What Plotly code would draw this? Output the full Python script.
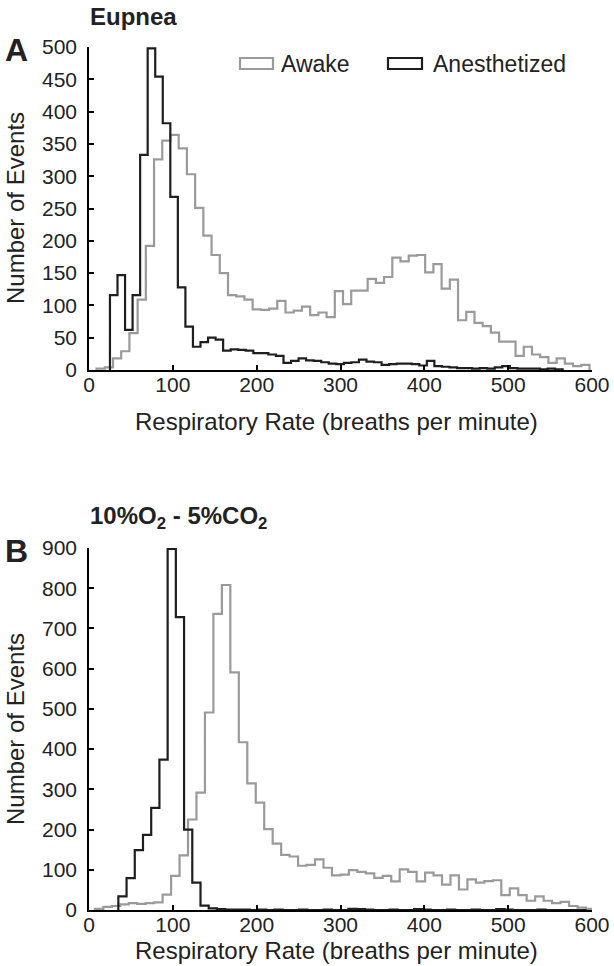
import numpy as np
import plotly.graph_objects as go

# ---------------- data ----------------
x_ticks = [0, 100, 200, 300, 400, 500, 600]
a_y_ticks = list(range(0, 501, 50))
b_y_ticks = list(range(0, 901, 100))

# Panel A (Eupnea) – Awake (grey)
a_awake_start = 9.0
a_awake_width = 9.8
a_awake_counts = [2, 4, 18, 29, 57, 109, 192, 326, 355, 364,
                  343, 303, 251, 208, 178, 150, 116, 114, 109, 94,
                  93, 95, 107, 89, 92, 98, 85, 89, 82, 122,
                  102, 123, 123, 141, 135, 144, 174, 168, 177, 178,
                  151, 164, 126, 140, 77, 90, 73, 68, 58, 44,
                  44, 22, 36, 24, 20, 11, 18, 10, 6, 8]

# Panel A (Eupnea) – Anesthetized (black)
a_anes_start = 25.0
a_anes_width = 9.0
a_anes_counts = [116, 147, 62, 116, 333, 498, 454, 382, 268, 128,
                 67, 36, 43, 50, 47, 30, 32, 31, 30, 26,
                 26, 24, 22, 11, 14, 18, 15, 14, 12, 10,
                 9, 11, 12, 16, 13, 12, 8, 9, 10, 10,
                 9, 7, 14, 6, 5, 4, 3, 3, 2, 3,
                 2, 4, 6, 3, 2, 2, 2, 1, 2, 1]

# Panel B (10%O2 - 5%CO2) – Awake (grey)
b_awake_start = 7.0
b_awake_width = 10.1
b_awake_counts = [3, 8, 10, 14, 17, 15, 17, 19, 38, 85,
                  136, 225, 292, 491, 736, 808, 591, 417, 315, 267,
                  201, 165, 137, 133, 110, 112, 126, 105, 86, 88,
                  99, 95, 91, 80, 85, 71, 101, 95, 71, 93,
                  86, 63, 86, 51, 76, 68, 72, 74, 37, 54,
                  37, 23, 34, 23, 17, 20, 10, 6, 3]

# Panel B (10%O2 - 5%CO2) – Anesthetized (black)
b_anes_start = 35.0
b_anes_width = 9.8
b_anes_counts = [34, 79, 149, 187, 254, 374, 898, 728, 200, 68,
                 11, 4, 2, 1, 1, 1, 0, 1, 0, 1,
                 0, 0, 1, 0, 0, 1, 0, 0, 3, 2,
                 1, 0, 0, 1, 0, 0, 2, 1, 0, 0,
                 1, 0, 0, 1, 0, 0, 2, 1, 0, 0,
                 0, 1, 0, 0, 0, 0, 0]

series_names = ["Awake", "Anesthetized"]
panel_titles = ["Eupnea", "10%O<sub>2</sub> - 5%CO<sub>2</sub>"]
panel_letters = ["A", "B"]
x_title = "Respiratory Rate (breaths per minute)"
y_title = "Number of Events"

# ---------------- style ----------------
GREY = "#9a9a9a"
BLACK = "#1e1e1e"
TXT = "#222222"
FONT = "Liberation Sans, Arial, sans-serif"
W, H = 614, 966
ML, MR, MT, MB = 89, 22, 47, 56
PH = H - MT - MB
PW = W - ML - MR


def py(ypix):
    return (H - MB - ypix) / PH


def px(xpix):
    return (xpix - ML) / PW


def step_xy(start, width, counts):
    counts = np.asarray(counts, dtype=float)
    edges = start + width * np.arange(len(counts) + 1)
    xs = np.concatenate([[edges[0]], edges])
    ys = np.concatenate([[0.0], counts, [0.0]])
    return xs, ys


fig = go.Figure()

panels = [
    ("x", "y", (a_awake_start, a_awake_width, a_awake_counts),
     (a_anes_start, a_anes_width, a_anes_counts)),
    ("x2", "y2", (b_awake_start, b_awake_width, b_awake_counts),
     (b_anes_start, b_anes_width, b_anes_counts)),
]
for xa, ya, aw, an in panels:
    for (st, wd, cn), col, nm in [(aw, GREY, series_names[0]), (an, BLACK, series_names[1])]:
        xs, ys = step_xy(st, wd, cn)
        fig.add_trace(go.Scatter(x=xs, y=ys, mode="lines",
                                 line=dict(color=col, width=2.2, shape="hv"),
                                 name=nm, showlegend=False, xaxis=xa, yaxis=ya,
                                 hoverinfo="skip"))

axis_common = dict(showline=True, linecolor="black", linewidth=1.5, ticks="inside", ticklen=5,
                   tickwidth=1.5, tickcolor="black", showgrid=False, zeroline=False,
                   tickfont=dict(family=FONT, size=21, color=TXT), automargin=False, mirror=False)

dom_a = [py(370), 1.0]
dom_b = [0.0, py(548)]

fig.update_layout(
    width=W, height=H, margin=dict(l=ML, r=MR, t=MT, b=MB),
    plot_bgcolor="white", paper_bgcolor="white", showlegend=False,
    font=dict(family=FONT, color=TXT),
    xaxis=dict(axis_common, domain=[0, 1], range=[0, 600], tickvals=x_ticks, anchor="y",
               ticklabelstandoff=-5),
    yaxis=dict(axis_common, domain=dom_a, range=[0, 500], tickvals=a_y_ticks, anchor="x",
               ticklabelstandoff=6),
    xaxis2=dict(axis_common, domain=[0, 1], range=[0, 600], tickvals=x_ticks, anchor="y2",
                ticklabelstandoff=-5),
    yaxis2=dict(axis_common, domain=dom_b, range=[0, 900], tickvals=b_y_ticks, anchor="x2",
                ticklabelstandoff=6),
)


def note(text, x, y, size, xanchor="left", angle=0, bold=False):
    t = "<b>%s</b>" % text if bold else text
    return dict(text=t, x=px(x), y=py(y), xref="paper", yref="paper", xanchor=xanchor,
                yanchor="middle", showarrow=False, textangle=angle,
                font=dict(size=size, family=FONT, color=TXT))


ann = [
    note(panel_titles[0], 88, 17, 24, bold=True),
    note(panel_titles[1], 88, 517, 24, bold=True),
    note(panel_letters[0], 16, 50, 32, xanchor="center", bold=True),
    note(panel_letters[1], 16, 551, 32, xanchor="center", bold=True),
    note(y_title, 16, 208, 24, xanchor="center", angle=-90),
    note(y_title, 16, 729, 24, xanchor="center", angle=-90),
    note(x_title, 336, 421, 24, xanchor="center"),
    note(x_title, 336, 950, 24, xanchor="center"),
    note(series_names[0], 279, 64, 23),
    note(series_names[1], 431, 64, 23),
]
fig.update_layout(annotations=ann)

shapes = [
    dict(type="rect", xref="paper", yref="paper", x0=px(240), x1=px(273), y0=py(69), y1=py(58),
         line=dict(color=GREY, width=2.2), fillcolor="white"),
    dict(type="rect", xref="paper", yref="paper", x0=px(388), x1=px(422), y0=py(69), y1=py(58),
         line=dict(color=BLACK, width=2.2), fillcolor="white"),
]
fig.update_layout(shapes=shapes)

fig.write_html(
    "out.html",
    config={"displayModeBar": False},
    post_script="document.body.style.margin='0';document.body.style.overflow='hidden';"
                "document.documentElement.style.overflow='hidden';",
)
